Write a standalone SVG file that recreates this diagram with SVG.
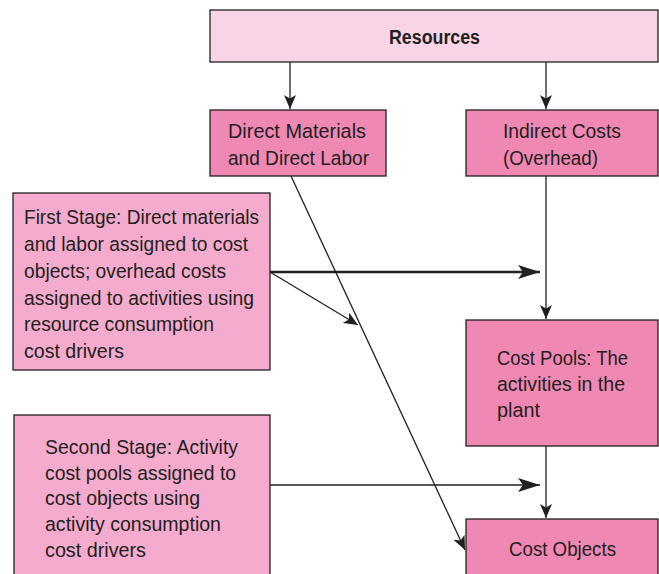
<svg xmlns="http://www.w3.org/2000/svg" width="659" height="574" viewBox="0 0 659 574">
<defs>
<style>
.box{stroke:#231f20;stroke-width:1.3}
.light{fill:#f9d4e6}
.dark{fill:#f088b4}
.mid{fill:#f4abcd}
text{font-family:"Liberation Sans",Arial,sans-serif;font-size:20.5px;fill:#231f20}
.b{font-weight:bold;font-size:19.5px}
.c{stroke:#231f20;stroke-width:1.3;fill:none}
</style>
<marker id="ah" markerUnits="userSpaceOnUse" markerWidth="14" markerHeight="12" refX="14" refY="6" orient="auto" viewBox="0 0 14 12">
<path d="M0,0 L14,6 L0,12 L3.5,6 z" fill="#231f20"/>
</marker>
<marker id="ahl" markerUnits="userSpaceOnUse" markerWidth="22" markerHeight="14" refX="22" refY="7" orient="auto" viewBox="0 0 22 14">
<path d="M0,0 L22,7 L0,14 L5,7 z" fill="#231f20"/>
</marker>
</defs>
<rect width="659" height="574" fill="#ffffff"/>
<g id="connectors">
<line class="c" x1="290" y1="62" x2="290" y2="109" marker-end="url(#ah)"/>
<line class="c" x1="546" y1="62" x2="546" y2="109" marker-end="url(#ah)"/>
<line class="c" x1="546" y1="176" x2="546" y2="319" marker-end="url(#ah)"/>
<line class="c" x1="546" y1="446" x2="546" y2="518" marker-end="url(#ah)"/>
<line class="c" x1="291" y1="176" x2="465" y2="550" marker-end="url(#ah)"/>
<line class="c" x1="270" y1="272" x2="358" y2="325" marker-end="url(#ah)"/>
<line class="c" x1="270" y1="272" x2="540" y2="272" style="stroke-width:2.5" marker-end="url(#ahl)"/>
<line class="c" x1="270" y1="485" x2="540" y2="485" style="stroke-width:1.5" marker-end="url(#ahl)"/>
</g>
<g id="resources">
<rect class="box light" x="210" y="10" width="448" height="52"/>
<text class="b" x="389" y="44" textLength="91" lengthAdjust="spacingAndGlyphs">Resources</text>
</g>
<g id="direct">
<rect class="box dark" x="210" y="110" width="176" height="66"/>
<text x="228" y="138" textLength="138" lengthAdjust="spacingAndGlyphs">Direct Materials</text>
<text x="228" y="165" textLength="141" lengthAdjust="spacingAndGlyphs">and Direct Labor</text>
</g>
<g id="indirect">
<rect class="box dark" x="466" y="110" width="192" height="66"/>
<text x="503" y="138" textLength="118" lengthAdjust="spacingAndGlyphs">Indirect Costs</text>
<text x="503" y="165" textLength="95" lengthAdjust="spacingAndGlyphs">(Overhead)</text>
</g>
<g id="first-stage">
<rect class="box mid" x="13" y="193" width="257" height="177"/>
<text x="24" y="224" textLength="235" lengthAdjust="spacingAndGlyphs">First Stage: Direct materials</text>
<text x="24" y="251" textLength="224" lengthAdjust="spacingAndGlyphs">and labor assigned to cost</text>
<text x="24" y="278" textLength="202" lengthAdjust="spacingAndGlyphs">objects; overhead costs</text>
<text x="24" y="305" textLength="230" lengthAdjust="spacingAndGlyphs">assigned to activities using</text>
<text x="24" y="331" textLength="190" lengthAdjust="spacingAndGlyphs">resource consumption</text>
<text x="24" y="358" textLength="100" lengthAdjust="spacingAndGlyphs">cost drivers</text>
</g>
<g id="cost-pools">
<rect class="box dark" x="466" y="320" width="192" height="126"/>
<text x="497" y="365" textLength="131" lengthAdjust="spacingAndGlyphs">Cost Pools: The</text>
<text x="497" y="391" textLength="128" lengthAdjust="spacingAndGlyphs">activities in the</text>
<text x="497" y="417" textLength="43" lengthAdjust="spacingAndGlyphs">plant</text>
</g>
<g id="second-stage">
<rect class="box mid" x="14" y="415" width="256" height="165"/>
<text x="45" y="454" textLength="193" lengthAdjust="spacingAndGlyphs">Second Stage: Activity</text>
<text x="45" y="480" textLength="191" lengthAdjust="spacingAndGlyphs">cost pools assigned to</text>
<text x="45" y="505" textLength="155" lengthAdjust="spacingAndGlyphs">cost objects using</text>
<text x="45" y="531" textLength="176" lengthAdjust="spacingAndGlyphs">activity consumption</text>
<text x="45" y="557" textLength="101" lengthAdjust="spacingAndGlyphs">cost drivers</text>
</g>
<g id="cost-objects">
<rect class="box dark" x="466" y="519" width="192" height="61"/>
<text x="509" y="556" textLength="107" lengthAdjust="spacingAndGlyphs">Cost Objects</text>
</g>
</svg>
